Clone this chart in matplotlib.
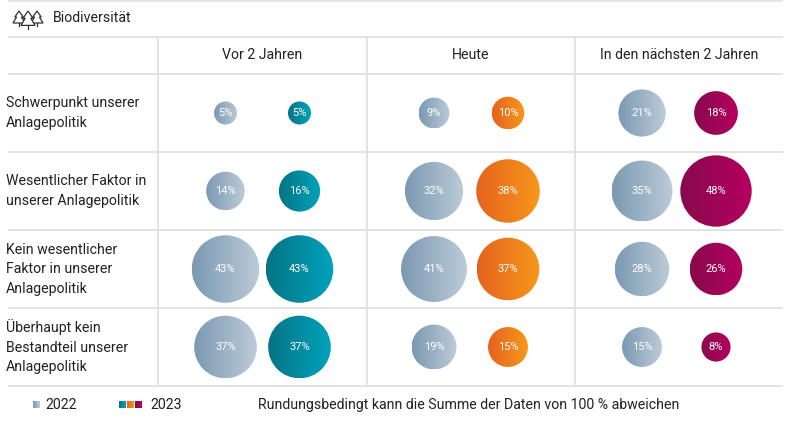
import numpy as np
import matplotlib.pyplot as plt
from matplotlib.patches import Circle, Polygon
from matplotlib.colors import LinearSegmentedColormap

plt.rcParams['font.family'] = ['Roboto', 'DejaVu Sans']

title = "Biodiversität"
columns = ["Vor 2 Jahren", "Heute", "In den nächsten 2 Jahren"]
rows = [
    "Schwerpunkt unserer\nAnlagepolitik",
    "Wesentlicher Faktor in\nunserer Anlagepolitik",
    "Kein wesentlicher\nFaktor in unserer\nAnlagepolitik",
    "Überhaupt kein\nBestandteil unserer\nAnlagepolitik",
]
# rows x columns
values_2022 = [
    [5, 9, 21],
    [14, 32, 35],
    [43, 41, 28],
    [37, 19, 15],
]
values_2023 = [
    [5, 10, 18],
    [16, 38, 48],
    [43, 37, 26],
    [37, 15, 8],
]
note = "Rundungsbedingt kann die Summe der Daten von 100 % abweichen"

grad_2022 = ("#7b99b2", "#bccbd8")
grad_2023 = [("#057486", "#00a3bb"), ("#e5621f", "#f7981a"), ("#880a4c", "#b5005f")]
grid_col = "#e1e1e1"
txt_col = "#222222"
fs = 10.2

W, H = 800, 426
fig = plt.figure(figsize=(W / 100, H / 100), dpi=100)
ax = fig.add_axes([0, 0, 1, 1])
ax.set_xlim(0, W)
ax.set_ylim(H, 0)
ax.axis("off")

x_left, x_right = 8, 783
col_edges = [158, 367, 575, 783]
row_edges = [74, 152, 230, 308, 386]

# grid
for y in [1, 37] + row_edges:
    ax.plot([x_left, x_right], [y, y], color=grid_col, lw=1.3, solid_capstyle="butt")
for x in col_edges[:-1]:
    ax.plot([x, x], [37, row_edges[-1]], color=grid_col, lw=1.3, solid_capstyle="butt")

# tree icon
def tree(cx, base, h, w):
    pts = [(cx, base - h), (cx - w * 0.35, base - h * 0.6), (cx - w * 0.2, base - h * 0.6),
           (cx - w * 0.5, base - h * 0.2), (cx + w * 0.5, base - h * 0.2),
           (cx + w * 0.2, base - h * 0.6), (cx + w * 0.35, base - h * 0.6)]
    ax.add_patch(Polygon(pts, closed=True, fill=True, facecolor="white", edgecolor="#333333", lw=0.9, zorder=3))
    ax.plot([cx, cx], [base - h * 0.2, base], color="#333333", lw=0.9, zorder=3)

tree(19, 26, 15, 12)
tree(37, 26, 15, 12)
tree(28, 29, 18, 14)
ax.text(53, 18, title, fontsize=fs, color=txt_col, va="center", ha="left")

for j, c in enumerate(columns):
    ax.text((col_edges[j] + col_edges[j + 1]) / 2, 55, c, fontsize=fs, color=txt_col,
            ha="center", va="center")

for i, r in enumerate(rows):
    ax.text(6, (row_edges[i] + row_edges[i + 1]) / 2, r, fontsize=fs, color=txt_col,
            ha="left", va="center", linespacing=1.5)


def bubble(cx, cy, v, colors):
    rad = 5.15 * np.sqrt(v)
    cmap = LinearSegmentedColormap.from_list("g", colors)
    grad = np.linspace(0, 1, 256).reshape(1, -1)
    im = ax.imshow(grad, cmap=cmap, extent=(cx - rad, cx + rad, cy + rad, cy - rad),
                   aspect="auto", interpolation="bilinear", zorder=2)
    clip = Circle((cx, cy), rad, transform=ax.transData)
    im.set_clip_path(clip)
    ax.text(cx, cy, f"{v}%", fontsize=8, color="white", ha="center", va="center", zorder=4)


for i in range(len(rows)):
    cy = (row_edges[i] + row_edges[i + 1]) / 2
    for j in range(len(columns)):
        cx = (col_edges[j] + col_edges[j + 1]) / 2
        bubble(cx - 37, cy, values_2022[i][j], grad_2022)
        bubble(cx + 37, cy, values_2023[i][j], grad_2023[j])

# legend
ly = 405
def square(x, colors):
    cmap = LinearSegmentedColormap.from_list("g", colors)
    grad = np.linspace(0, 1, 32).reshape(1, -1)
    ax.imshow(grad, cmap=cmap, extent=(x, x + 7, ly + 3.5, ly - 3.5), aspect="auto", zorder=2)

square(33, grad_2022)
ax.text(45, ly, "2022", fontsize=fs, color=txt_col, ha="left", va="center")
for k, g in enumerate(grad_2023):
    square(119 + k * 8, g)
ax.text(150, ly, "2023", fontsize=fs, color=txt_col, ha="left", va="center")
ax.text(258, ly, note, fontsize=fs, color=txt_col, ha="left", va="center")

ax.set_xlim(0, W)
ax.set_ylim(H, 0)
fig.savefig("out.png", dpi=100)
